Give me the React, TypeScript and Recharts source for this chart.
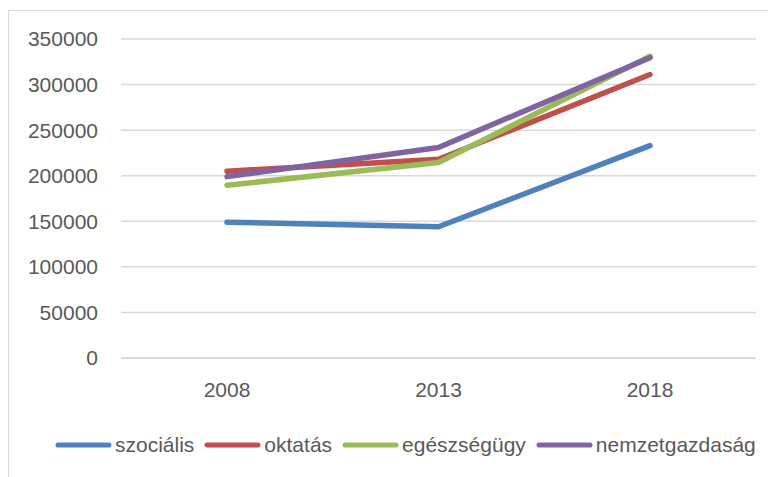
import React from 'react';
import { LineChart, Line, XAxis, YAxis, CartesianGrid, Legend } from 'recharts';

const years = ['2008', '2013', '2018'];
const szocialis = [149000, 144000, 233000];
const oktatas = [205000, 218000, 311000];
const egeszsegugy = [189500, 214500, 331000];
const nemzetgazdasag = [199000, 231000, 329500];
const yTicks = [0, 50000, 100000, 150000, 200000, 250000, 300000, 350000];

const series = [
  { key: 'szociális', values: szocialis, color: '#4F81BD' },
  { key: 'oktatás', values: oktatas, color: '#C0504D' },
  { key: 'egészségügy', values: egeszsegugy, color: '#9BBB59' },
  { key: 'nemzetgazdaság', values: nemzetgazdasag, color: '#8064A2' },
];

const data = years.map((year, i) => {
  const row: any = { year };
  series.forEach((s) => {
    row[s.key] = s.values[i];
  });
  return row;
});

const FONT = "'Liberation Sans', Arial, sans-serif";
const TEXT = '#595959';

const CustomLegend = () => (
  <div style={{ display: 'flex', justifyContent: 'flex-start', paddingLeft: 46, fontFamily: FONT, fontSize: 21, color: TEXT, height: 25 }}>
    {series.map((s) => (
      <div key={s.key} style={{ display: 'flex', alignItems: 'center', marginRight: 10 }}>
        <svg width={57} height={8} style={{ marginRight: 3 }}>
          <line x1={3} y1={4} x2={54} y2={4} stroke={s.color} strokeWidth={5} strokeLinecap="round" />
        </svg>
        <span>{s.key}</span>
      </div>
    ))}
  </div>
);

const App = () => {
  return (
    <div style={{ width: 780, height: 480, border: '1px solid #d9d9d9', marginTop: 2 }}>
      <LineChart width={770} height={470} data={data} margin={{ top: 28, right: 23, left: 0, bottom: 68 }}>
        <CartesianGrid vertical={false} stroke="#d9d9d9" strokeWidth={1.5} />
        <XAxis
          dataKey="year"
          padding={{ left: 106, right: 106 }}
          axisLine={{ stroke: '#d9d9d9', strokeWidth: 1.5 }}
          tickLine={false}
          tickSize={0}
          tickMargin={24}
          height={30}
          tick={{ fill: TEXT, fontSize: 21, fontFamily: FONT }}
        />
        <YAxis
          domain={[0, 350000]}
          ticks={yTicks}
          axisLine={false}
          tickLine={false}
          tickSize={0}
          tickMargin={23}
          width={112}
          tick={{ fill: TEXT, fontSize: 21, fontFamily: FONT }}
        />
        <Legend content={<CustomLegend />} wrapperStyle={{ top: 421, left: 0, width: 770 }} />
        {series.map((s) => (
          <Line
            key={s.key}
            type="linear"
            dataKey={s.key}
            stroke={s.color}
            strokeWidth={5.5}
            strokeLinecap="round"
            strokeLinejoin="round"
            dot={false}
            activeDot={false}
            isAnimationActive={false}
          />
        ))}
      </LineChart>
    </div>
  );
};

export default App;
